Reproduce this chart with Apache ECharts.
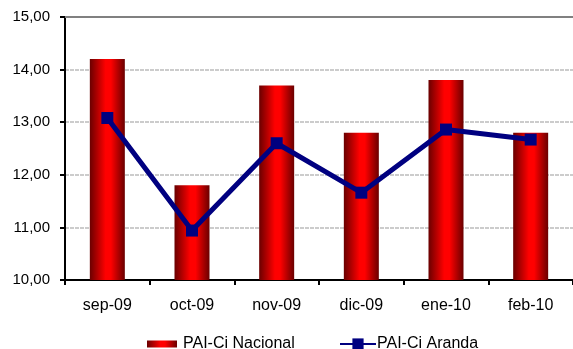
<!DOCTYPE html>
<html><head><meta charset="utf-8">
<script src="https://cdn.jsdelivr.net/npm/echarts@6/dist/echarts.min.js"></script>
<style>html,body{margin:0;padding:0;background:#fff}#c{width:573px;height:349px}</style>
</head><body><div id="c"></div>
<script>
const categories = ['sep-09','oct-09','nov-09','dic-09','ene-10','feb-10'];
const nacional = [14.2, 11.8, 13.7, 12.8, 13.8, 12.8];
const aranda = [13.08, 10.94, 12.6, 11.66, 12.86, 12.67];
const yTicks = {min: 10, max: 15, interval: 1};

const font = 'Liberation Sans, Arial, sans-serif';
const barGrad = new echarts.graphic.LinearGradient(0,0,1,0,[
  {offset:0,color:'#6a0000'},{offset:0.45,color:'#ff0000'},{offset:0.6,color:'#ff0000'},{offset:1,color:'#6a0000'}]);
const chart = echarts.init(document.getElementById('c'));
chart.setOption({
  animation:false,
  textStyle:{fontFamily:font,color:'#000'},
  grid:{left:65,right:-10,top:17,bottom:69},
  legend:[{
    data:[{name:'PAI-Ci Nacional',icon:'rect'}],left:142,top:331,itemWidth:30,itemHeight:7,
    textStyle:{fontFamily:font,fontSize:16,color:'#000',padding:[0,0,0,1]}
  },{
    data:['PAI-Ci Aranda'],left:334,top:331,itemWidth:36,itemHeight:14,
    textStyle:{fontFamily:font,fontSize:16,color:'#000',padding:[0,0,0,-4]}
  }],
  xAxis:{type:'category',data:categories,boundaryGap:true,
    axisLine:{lineStyle:{color:'#000',width:2}},
    axisTick:{show:true,length:5,lineStyle:{color:'#000',width:2}},
    axisLabel:{fontFamily:font,fontSize:16,color:'#000',margin:18},
    splitLine:{show:false}},
  yAxis:{type:'value',min:yTicks.min,max:yTicks.max,interval:yTicks.interval,
    axisLine:{show:true,lineStyle:{color:'#000',width:2}},
    axisTick:{show:true,length:5,lineStyle:{color:'#000',width:2}},
    axisLabel:{fontFamily:font,fontSize:15,color:'#000',margin:15,
      formatter:v=>v.toFixed(2).replace('.',',')},
    splitLine:{show:true,lineStyle:{color:'#cccccc',width:2,type:[4,1]}}},
  series:[{
    name:'PAI-Ci Nacional',type:'bar',data:nacional,barWidth:35,
    itemStyle:{color:barGrad},
    markLine:{silent:true,symbol:'none',label:{show:false},
      lineStyle:{color:'#808080',width:2,type:'solid'},data:[{yAxis:15}]}
  },{
    name:'PAI-Ci Aranda',type:'line',data:aranda,
    lineStyle:{color:'#000080',width:5},
    itemStyle:{color:'#000080'},
    symbol:'rect',symbolSize:12,showSymbol:true
  }]
});
</script></body></html>
